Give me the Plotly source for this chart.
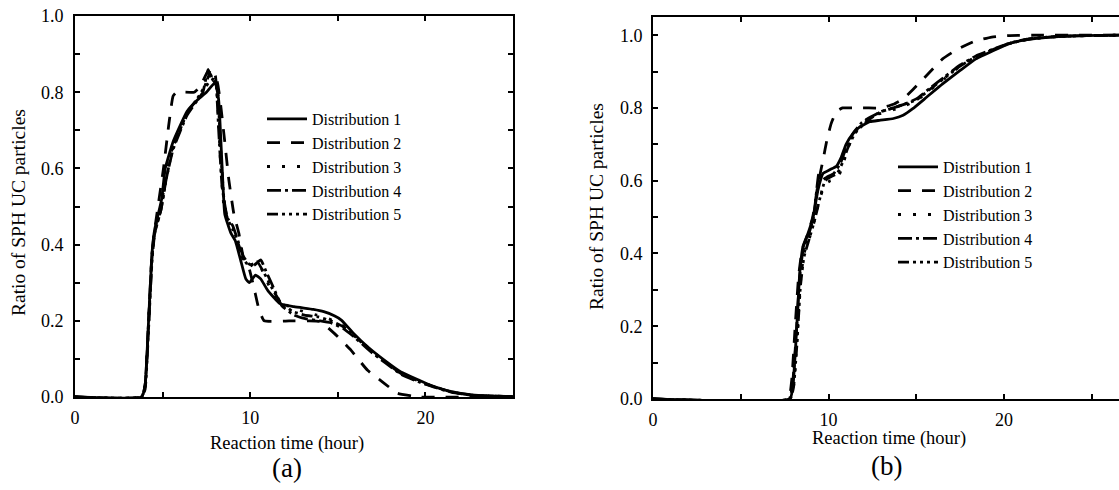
import plotly.graph_objects as go

# ---------------- data: panel (a) ----------------
a1_t = [0, 3.8, 4.0, 4.2, 4.4, 4.55, 4.95, 5.15, 5.6, 6.4, 7.0, 7.5, 8.0, 8.2, 8.4, 8.55, 8.9, 9.15, 9.45, 9.75,
        9.95, 10.3, 10.6, 11.0, 11.7, 12.5, 13.6, 14.2, 14.8, 15.2, 15.9, 16.7, 17.65, 18.6, 19.6, 20.3, 21.5, 22.8, 25]
a1_v = [0, 0, 0.03, 0.2, 0.38, 0.44, 0.52, 0.6, 0.67, 0.75, 0.78, 0.80, 0.825, 0.78, 0.6, 0.48, 0.43, 0.41, 0.36, 0.31,
        0.30, 0.32, 0.31, 0.28, 0.245, 0.237, 0.23, 0.224, 0.213, 0.202, 0.167, 0.132, 0.097, 0.066, 0.045, 0.031, 0.014, 0.005, 0.001]

a2_t = [0, 3.8, 4.0, 4.2, 4.4, 4.55, 5.05, 5.34, 5.6, 5.8, 6.8, 7.15, 7.6, 8.1, 8.5, 8.78, 9.07, 9.35, 9.64, 9.92,
        10.2, 10.5, 10.8, 12.5, 13.3, 14.0, 14.8, 15.75, 16.7, 17.65, 18.4, 19.2, 19.6, 25]
a2_v = [0, 0, 0.03, 0.2, 0.38, 0.44, 0.6, 0.71, 0.79, 0.80, 0.80, 0.815, 0.855, 0.83, 0.69, 0.57, 0.48, 0.43, 0.36, 0.34,
        0.29, 0.23, 0.20, 0.20, 0.20, 0.198, 0.167, 0.123, 0.07, 0.036, 0.01, 0.003, 0.0, 0.0]

a3_t = [0, 3.8, 4.0, 4.2, 4.4, 4.55, 4.9, 5.2, 5.6, 6.4, 7.0, 7.4, 7.7, 7.9, 8.1, 8.3, 8.5, 8.7, 9.0, 9.3, 9.6, 9.9,
        10.2, 10.5, 10.8, 11.1, 11.6, 12.3, 13.0, 13.8, 14.5, 15.2, 16.0, 16.8, 17.7, 18.6, 19.6, 20.5, 21.5, 22.8, 25]
a3_v = [0, 0, 0.03, 0.2, 0.38, 0.44, 0.5, 0.58, 0.66, 0.745, 0.78, 0.81, 0.83, 0.84, 0.8, 0.62, 0.5, 0.47, 0.44, 0.40,
        0.36, 0.34, 0.35, 0.35, 0.32, 0.29, 0.255, 0.235, 0.225, 0.215, 0.205, 0.19, 0.16, 0.127, 0.093, 0.063, 0.042,
        0.027, 0.013, 0.004, 0.001]

a4_t = [0, 3.8, 4.0, 4.2, 4.4, 4.55, 4.9, 5.2, 5.6, 6.4, 7.0, 7.3, 7.6, 7.8, 8.0, 8.2, 8.4, 8.7, 9.0, 9.3, 9.6, 9.9,
        10.2, 10.6, 10.9, 11.3, 11.8, 12.5, 13.2, 14.0, 14.6, 15.3, 16.0, 16.8, 17.7, 18.6, 19.6, 20.5, 21.5, 22.8, 25]
a4_v = [0, 0, 0.03, 0.19, 0.37, 0.43, 0.49, 0.57, 0.65, 0.74, 0.78, 0.80, 0.86, 0.83, 0.845, 0.7, 0.55, 0.47, 0.45,
        0.41, 0.37, 0.35, 0.345, 0.36, 0.33, 0.29, 0.24, 0.215, 0.205, 0.20, 0.195, 0.18, 0.155, 0.122, 0.09, 0.06,
        0.04, 0.026, 0.012, 0.004, 0.001]

a5_t = [0, 3.8, 4.0, 4.2, 4.4, 4.55, 4.9, 5.2, 5.6, 6.4, 7.0, 7.4, 7.7, 7.9, 8.1, 8.3, 8.5, 8.7, 9.0, 9.3, 9.6, 9.9,
        10.2, 10.4, 10.8, 11.2, 11.7, 12.4, 13.1, 13.9, 14.6, 15.3, 16.0, 16.8, 17.7, 18.6, 19.6, 20.5, 21.5, 22.8, 25]
a5_v = [0, 0, 0.02, 0.18, 0.36, 0.43, 0.49, 0.57, 0.655, 0.745, 0.785, 0.815, 0.85, 0.83, 0.82, 0.66, 0.52, 0.465,
        0.445, 0.405, 0.365, 0.345, 0.35, 0.355, 0.325, 0.29, 0.25, 0.225, 0.215, 0.21, 0.2, 0.185, 0.158, 0.125,
        0.092, 0.062, 0.041, 0.027, 0.013, 0.004, 0.001]

# ---------------- data: panel (b) ----------------
b1_t = [0, 7.8, 7.98, 8.17, 8.36, 8.55, 8.83, 9.12, 9.4, 9.69, 10.07, 10.45, 10.73, 11.0, 11.4, 11.78, 12.35, 12.9,
        13.7, 14.25, 14.8, 15.6, 16.5, 17.5, 18.4, 19.4, 20.3, 21.3, 22.2, 23.2, 24.5, 26.6]
b1_v = [0, 0, 0.04, 0.18, 0.345, 0.42, 0.455, 0.50, 0.575, 0.62, 0.63, 0.64, 0.665, 0.70, 0.73, 0.748, 0.762, 0.766,
        0.771, 0.78, 0.798, 0.83, 0.866, 0.903, 0.935, 0.958, 0.977, 0.988, 0.993, 0.997, 0.999, 1.0]

b2_t = [0, 7.7, 7.9, 8.1, 8.3, 8.5, 8.8, 9.1, 9.4, 9.7, 9.9, 10.15, 10.45, 10.8, 11.5, 12.3, 13.0, 13.7, 14.25, 14.8,
        15.6, 16.5, 17.3, 18.3, 19.3, 20.3, 22.0, 24.0, 26.6]
b2_v = [0, 0, 0.05, 0.2, 0.34, 0.41, 0.45, 0.5, 0.59, 0.66, 0.71, 0.757, 0.79, 0.80, 0.80, 0.80, 0.80, 0.81, 0.825,
        0.85, 0.89, 0.935, 0.96, 0.983, 0.995, 0.999, 1.0, 1.0, 1.0]

b3_t = [0, 7.8, 8.0, 8.2, 8.4, 8.6, 8.9, 9.2, 9.5, 9.8, 10.1, 10.5, 10.8, 11.1, 11.5, 12.0, 12.5, 13.0, 13.7, 14.3,
        15.0, 15.8, 16.6, 17.5, 18.4, 19.4, 20.3, 21.3, 22.3, 23.5, 25.0, 26.6]
b3_v = [0, 0, 0.03, 0.16, 0.32, 0.40, 0.44, 0.49, 0.55, 0.59, 0.60, 0.605, 0.64, 0.69, 0.73, 0.76, 0.78, 0.785, 0.795,
        0.805, 0.82, 0.85, 0.88, 0.915, 0.94, 0.96, 0.977, 0.988, 0.994, 0.997, 0.999, 1.0]

b4_t = [0, 7.75, 7.95, 8.15, 8.35, 8.55, 8.85, 9.15, 9.45, 9.6, 9.9, 10.3, 10.7, 11.0, 11.4, 11.9, 12.4, 13.0, 13.7,
        14.3, 15.0, 15.8, 16.6, 17.5, 18.4, 19.4, 20.3, 21.3, 22.3, 23.5, 25.0, 26.6]
b4_v = [0, 0, 0.04, 0.17, 0.33, 0.41, 0.45, 0.5, 0.62, 0.60, 0.61, 0.62, 0.65, 0.69, 0.73, 0.76, 0.775, 0.79, 0.80,
        0.81, 0.825, 0.855, 0.885, 0.918, 0.943, 0.962, 0.978, 0.989, 0.994, 0.997, 0.999, 1.0]

b5_t = [0, 7.8, 8.0, 8.2, 8.4, 8.6, 8.9, 9.2, 9.5, 9.8, 10.1, 10.5, 10.8, 11.1, 11.5, 12.0, 12.5, 13.0, 13.7, 14.3,
        15.0, 15.8, 16.6, 17.5, 18.4, 19.4, 20.3, 21.3, 22.3, 23.5, 25.0, 26.6]
b5_v = [0, 0, 0.03, 0.15, 0.31, 0.39, 0.44, 0.49, 0.55, 0.60, 0.61, 0.62, 0.65, 0.69, 0.73, 0.755, 0.775, 0.79, 0.80,
        0.81, 0.822, 0.852, 0.882, 0.915, 0.941, 0.961, 0.977, 0.988, 0.994, 0.997, 0.999, 1.0]

series_names = ["Distribution 1", "Distribution 2", "Distribution 3", "Distribution 4", "Distribution 5"]

x_tick_vals = [0, 5, 10, 15, 20, 25]
x_tick_text = ["0", "", "10", "", "20", ""]
y_tick_vals = [0.0, 0.1, 0.2, 0.3, 0.4, 0.5, 0.6, 0.7, 0.8, 0.9, 1.0]
y_tick_text = ["0.0", "", "0.2", "", "0.4", "", "0.6", "", "0.8", "", "1.0"]

x_title = "Reaction time (hour)"
y_title = "Ratio of SPH UC particles"
panel_labels = ["(a)", "(b)"]

# ---------------- styles ----------------
FONT = "Liberation Serif"
W, H = 1119, 490
dashes = ["solid", "13px,11px", "3px,12px", "14px,4px,3px,4px", "11px,4px,3px,4px,3px,4px,3px,4px"]
LW = 2.8

fig = go.Figure()

a_data = [(a1_t, a1_v), (a2_t, a2_v), (a3_t, a3_v), (a4_t, a4_v), (a5_t, a5_v)]
b_data = [(b1_t, b1_v), (b2_t, b2_v), (b3_t, b3_v), (b4_t, b4_v), (b5_t, b5_v)]

for i, (t, v) in enumerate(a_data):
    fig.add_trace(go.Scatter(x=t, y=v, mode="lines", name=series_names[i],
                             line=dict(color="black", width=LW, dash=dashes[i], shape="spline", smoothing=0.4),
                             xaxis="x", yaxis="y", legend="legend"))
for i, (t, v) in enumerate(b_data):
    fig.add_trace(go.Scatter(x=t, y=v, mode="lines", name=series_names[i],
                             line=dict(color="black", width=LW, dash=dashes[i], shape="spline", smoothing=0.4),
                             xaxis="x2", yaxis="y2", legend="legend2"))

def px_x(p):
    return p / W

def px_y(p):
    return 1 - p / H

axis_common = dict(showline=True, linecolor="black", linewidth=2, ticks="inside", ticklen=5, tickwidth=1.5,
                   tickcolor="black", showgrid=False, zeroline=False, automargin=False,
                   tickfont=dict(family=FONT, size=18, color="black"))

fig.update_layout(
    template="none",
    width=W, height=H, margin=dict(l=0, r=0, t=0, b=0, autoexpand=False),
    paper_bgcolor="white", plot_bgcolor="white",
    xaxis=dict(domain=[px_x(75), px_x(513)], range=[0, 25], anchor="y", tickvals=x_tick_vals,
               ticktext=x_tick_text, mirror="ticks", ticklabelstandoff=3, **axis_common),
    yaxis=dict(domain=[px_y(397), px_y(16)], range=[0, 1.0], anchor="x", tickvals=y_tick_vals,
               ticktext=y_tick_text, mirror="ticks", ticklabelstandoff=6, **axis_common),
    xaxis2=dict(domain=[px_x(653), 1.0], range=[0, 26.55], anchor="y2", tickvals=x_tick_vals,
                ticktext=x_tick_text, mirror="ticks", ticklabelstandoff=3, **axis_common),
    yaxis2=dict(domain=[px_y(399), px_y(17)], range=[0, 1.05], anchor="x2", tickvals=y_tick_vals,
                ticktext=y_tick_text, mirror=False, ticklabelstandoff=5, **axis_common),
    legend=dict(x=px_x(262), y=px_y(102), xanchor="left", yanchor="top", bgcolor="rgba(0,0,0,0)",
                font=dict(family=FONT, size=16, color="black"), itemwidth=40, tracegroupgap=0),
    legend2=dict(x=px_x(893), y=px_y(150), xanchor="left", yanchor="top", bgcolor="rgba(0,0,0,0)",
                 font=dict(family=FONT, size=16, color="black"), itemwidth=40, tracegroupgap=0),
    showlegend=True,
)

def ann(text, x, y, size, angle=0):
    return dict(text=text, x=px_x(x), y=px_y(y), xref="paper", yref="paper", showarrow=False,
                xanchor="center", yanchor="middle", textangle=angle,
                font=dict(family=FONT, size=size, color="black"))

annots = [
    ann(x_title, 287, 443, 18.5),
    ann(x_title, 889, 438, 18.5),
    ann(y_title, 18, 213, 19.5, -90),
    ann(y_title, 597, 207, 19.5, -90),
    ann(panel_labels[0], 287, 468, 27),
    ann(panel_labels[1], 886, 466, 27),
]
fig.update_layout(annotations=annots)

fig.write_html("out.html", config={"displayModeBar": False},
               post_script="document.body.style.margin='0';")
